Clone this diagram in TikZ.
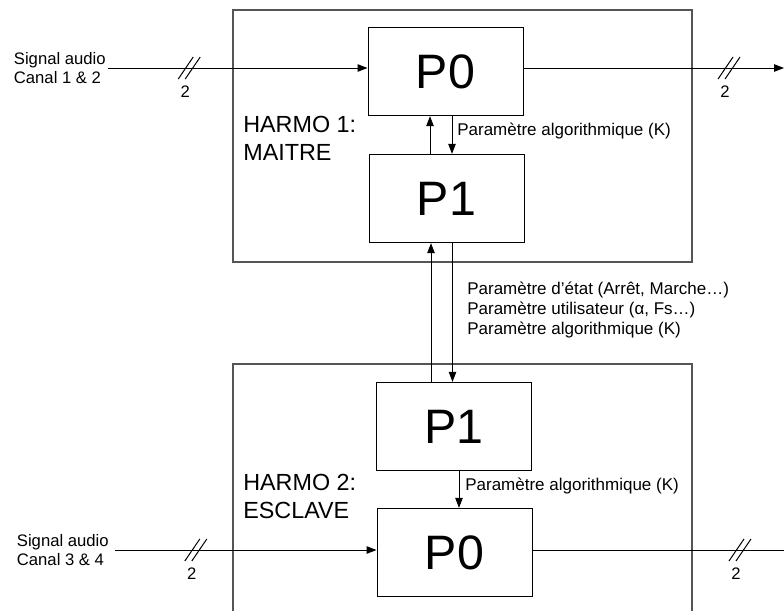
\documentclass[tikz,border=0pt]{standalone}
\usepackage{fontspec}
\setmainfont{Liberation Sans}
\usetikzlibrary{arrows.meta,positioning,calc}
\definecolor{frameGray}{RGB}{85,85,85}
\tikzset{
  proc box/.style={draw=black,line width=0.6pt,minimum width=93pt,minimum height=53pt,inner sep=0pt,font=\fontsize{29}{33}\selectfont},
  harmo frame/.style={draw=frameGray,line width=0.9pt},
  harmo label/.style={align=left,inner sep=0pt,anchor=north west,font=\fontsize{14}{16.8}\selectfont},
  param label/.style={align=left,inner sep=0pt,anchor=west,font=\fontsize{10.2}{12}\selectfont},
  signal label/.style={align=left,inner sep=0pt,anchor=east,font=\fontsize{10}{11.6}\selectfont},
  bus width/.style={inner sep=0pt,font=\fontsize{10}{12}\selectfont},
  signal arrow/.style={-{Triangle[length=6pt,width=4.5pt]},line width=0.6pt,draw=black},
  signal line/.style={line width=0.6pt,draw=black},
  bus mark/.pic={\draw[line width=0.6pt] (-11,11) -- (4,-11) (-4,11) -- (11,-11);}
}
\begin{document}
\begin{tikzpicture}[x=0.6pt,y=-0.6pt]
  \useasboundingbox (0,0) rectangle (784,610);
  % HARMO 1 : maitre
  \draw[harmo frame] (233,10) rectangle (692,262);
  \node[proc box] (p0m) at (445.5,71.5) {P0};
  \node[proc box] (p1m) at (446.5,198.5) {P1};
  \node[harmo label] (harmo1) at (243,116) {HARMO 1:\\MAITRE};
  % HARMO 2 : esclave
  \draw[harmo frame] (233,614) -- (233,364) -- (692,364) -- (692,614);
  \node[proc box] (p1s) at (454,426.5) {P1};
  \node[proc box] (p0s) at (454.5,552.5) {P0};
  \node[harmo label] (harmo2) at (243,474) {HARMO 2:\\ESCLAVE};
  % entrees / sorties audio
  \node[signal label] (in1) at (106,68) {Signal audio\\Canal 1 \& 2};
  \node[signal label] (in2) at (109,550) {Signal audio\\Canal 3 \& 4};
  \coordinate (out1) at (784,68);
  \coordinate (out2) at (784,550);
  \draw[signal arrow] ([xshift=1.2pt]in1.east) -- coordinate[pos=0.313] (bus1) (in1.east -| p0m.west);
  \draw[signal arrow] (in1.east -| p0m.east) -- coordinate[pos=0.789] (bus2) (out1);
  \draw[signal arrow] ([xshift=3.6pt]in2.east) -- coordinate[pos=0.309] (bus3) (in2.east -| p0s.west);
  \draw[signal line] (in2.east -| p0s.east) -- coordinate[pos=0.825] (bus4) (out2);
  \foreach \b in {bus1,bus2,bus3,bus4} {
    \pic at (\b) {bus mark};
    \node[bus width] at ([xshift=-2.4pt,yshift=-14pt]\b) {2};
  }
  % parametres
  \draw[signal arrow] ([xshift=-9.9pt]p1m.north) -- ([xshift=-9.9pt]p1m.north |- p0m.south);
  \draw[signal arrow] ([xshift=3.9pt]p0m.south) -- ([xshift=3.9pt]p0m.south |- p1m.north);
  \node[param label] (kM) at (457,131) {Paramètre algorithmique (K)};
  \draw[signal arrow] ([xshift=-13.8pt]p1s.north) -- ([xshift=-13.8pt]p1s.north |- p1m.south);
  \draw[signal arrow] ([xshift=3.6pt]p1m.south) -- ([xshift=3.6pt]p1m.south |- p1s.north);
  \node[param label] (link) at (467,310) {Paramètre d’état (Arrêt, Marche…)\\Paramètre utilisateur (α, Fs…)\\Paramètre algorithmique (K)};
  \draw[signal arrow] ([xshift=3pt]p1s.south) -- ([xshift=3pt]p1s.south |- p0s.north);
  \node[param label] (kS) at (465,486) {Paramètre algorithmique (K)};
\end{tikzpicture}
\end{document}
